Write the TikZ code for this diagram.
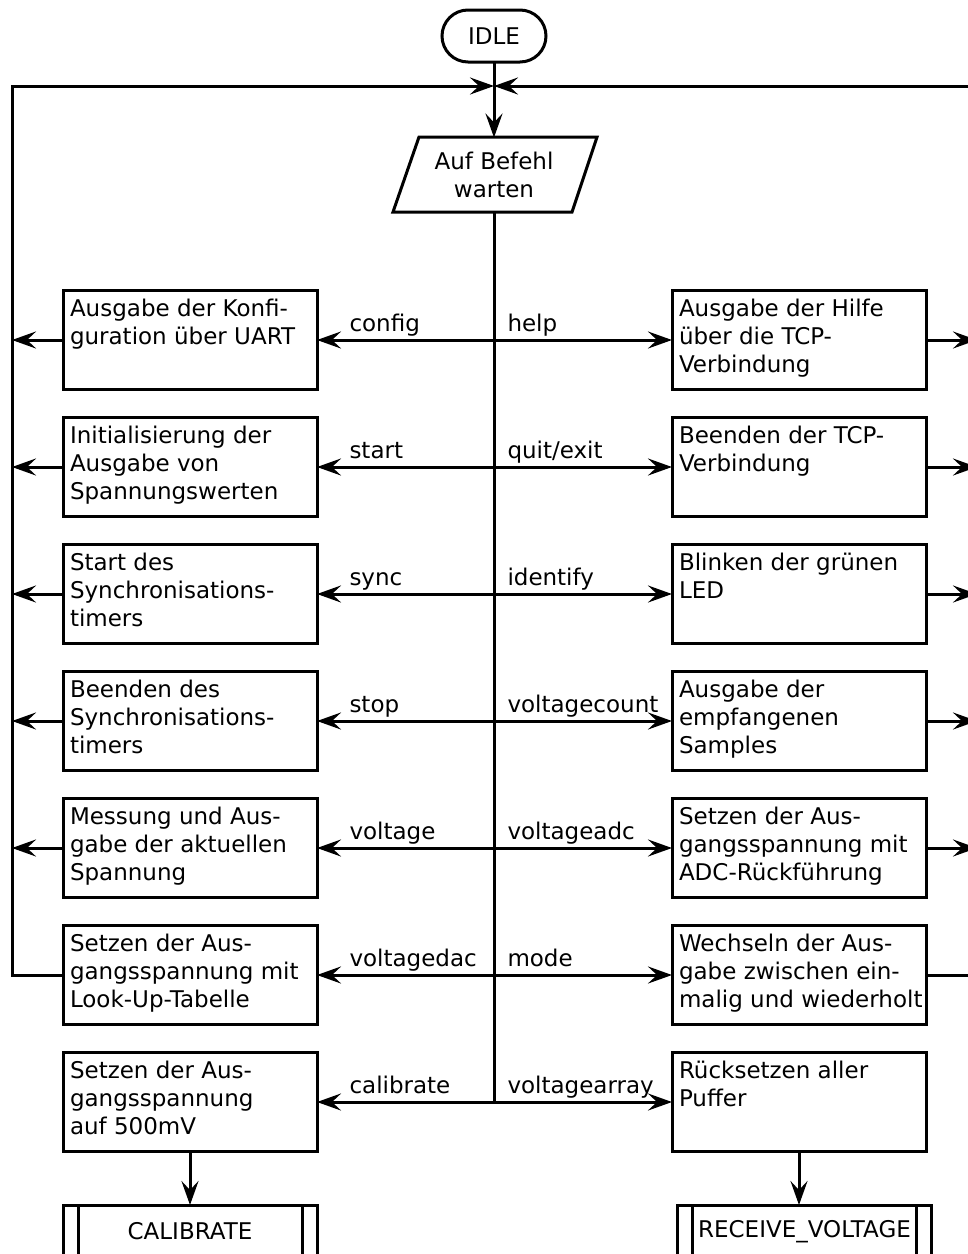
\documentclass[tikz,border=0pt]{standalone}
\usepackage{fontspec}
\setmainfont{DejaVu Sans}
\usetikzlibrary{arrows.meta}

\begin{document}
\begin{tikzpicture}[x=0.5pt, y=-0.5pt, line width=1.5pt,
    >={Stealth[length=12pt,width=8.5pt,inset=4.5pt]},
    font=\fontsize{11.5}{14}\selectfont,
    box/.style={draw, outer sep=0pt, minimum width=127pt, minimum height=49.5pt},
    txt/.style={anchor=north west, align=left, inner xsep=2.75pt, inner ysep=3.5pt},
    cmd/.style={anchor=base west, inner sep=0pt},
    sub/.style={draw, outer sep=0pt, minimum width=127pt, minimum height=26.5pt}]
  \clip (0,0) rectangle (968,1254);

  % start and waiting for a command
  \node[draw, outer sep=0pt, rounded corners=13pt, minimum width=52pt, minimum height=26pt] (idle) at (494,36) {IDLE};
  \draw (419,137) -- (597,137) -- (572,212) -- (393,212) -- cycle;
  \node[align=center, minimum height=37.5pt, outer sep=0pt] (wait) at (494,175) {Auf Befehl\\warten};
  \coordinate (top) at (494,86);
  \coordinate (lft) at (12,86);
  \coordinate (rgt) at (977,86);
  \draw[->] (idle) -- (wait);

  % command boxes
  \node[box, label={[txt]north west:Ausgabe der Konfi-\\guration über UART}] (lb1) at (190,340) {};
  \node[box, label={[txt]north west:Initialisierung der\\Ausgabe von\\Spannungswerten}] (lb2) at (190,467) {};
  \node[box, label={[txt]north west:Start des\\Synchronisations-\\timers}] (lb3) at (190,594) {};
  \node[box, label={[txt]north west:Beenden des\\Synchronisations-\\timers}] (lb4) at (190,721) {};
  \node[box, label={[txt]north west:Messung und Aus-\\gabe der aktuellen\\Spannung}] (lb5) at (190,848) {};
  \node[box, label={[txt]north west:Setzen der Aus-\\gangsspannung mit\\Look-Up-Tabelle}] (lb6) at (190,975) {};
  \node[box, label={[txt]north west:Setzen der Aus-\\gangsspannung\\auf 500mV}] (lb7) at (190,1102) {};

  \node[box, label={[txt]north west:Ausgabe der Hilfe\\über die TCP-\\Verbindung}] (rb1) at (799,340) {};
  \node[box, label={[txt]north west:Beenden der TCP-\\Verbindung}] (rb2) at (799,467) {};
  \node[box, label={[txt]north west:Blinken der grünen\\LED}] (rb3) at (799,594) {};
  \node[box, label={[txt]north west:Ausgabe der\\empfangenen\\Samples}] (rb4) at (799,721) {};
  \node[box, label={[txt]north west:Setzen der Aus-\\gangsspannung mit\\ADC-Rückführung}] (rb5) at (799,848) {};
  \node[box, label={[txt]north west:Wechseln der Aus-\\gabe zwischen ein-\\malig und wiederholt}] (rb6) at (799,975) {};
  \node[box, label={[txt]north west:Rücksetzen aller\\Puffer}] (rb7) at (799,1102) {};

  % command names
  \node[cmd] (lc1) at (348,331) {config};
  \node[cmd] (rc1) at (506,331) {help};
  \node[cmd] (lc2) at (348,458) {start};
  \node[cmd] (rc2) at (506,458) {quit/exit};
  \node[cmd] (lc3) at (348,585) {sync};
  \node[cmd] (rc3) at (506,585) {identify};
  \node[cmd] (lc4) at (348,712) {stop};
  \node[cmd] (rc4) at (506,712) {voltagecount};
  \node[cmd] (lc5) at (348,839) {voltage};
  \node[cmd] (rc5) at (506,839) {voltageadc};
  \node[cmd] (lc6) at (348,966) {voltagedac};
  \node[cmd] (rc6) at (506,966) {mode};
  \node[cmd] (lc7) at (348,1093) {calibrate};
  \node[cmd] (rc7) at (506,1093) {voltagearray};

  % dispatch from the waiting state
  \draw (wait) -- (wait |- lb7);
  \draw[<->] (lb1) -- (rb1);
  \draw[<->] (lb2) -- (rb2);
  \draw[<->] (lb3) -- (rb3);
  \draw[<->] (lb4) -- (rb4);
  \draw[<->] (lb5) -- (rb5);
  \draw[<->] (lb6) -- (rb6);
  \draw[<->] (lb7) -- (rb7);

  % back to waiting
  \draw[->] (lb6) -| (lft) -- (top);
  \draw[->] (rb6) -| (rgt) -- (top);
  \draw[->] (lb1) -- (lb1 -| lft);
  \draw[->] (lb2) -- (lb2 -| lft);
  \draw[->] (lb3) -- (lb3 -| lft);
  \draw[->] (lb4) -- (lb4 -| lft);
  \draw[->] (lb5) -- (lb5 -| lft);
  \draw[->] (rb1) -- (rb1 -| rgt);
  \draw[->] (rb2) -- (rb2 -| rgt);
  \draw[->] (rb3) -- (rb3 -| rgt);
  \draw[->] (rb4) -- (rb4 -| rgt);
  \draw[->] (rb5) -- (rb5 -| rgt);

  % next states
  \node[sub] (cal) at (190,1231.5) {CALIBRATE};
  \node[sub] (recv) at (804.5,1231.5) {RECEIVE\_VOLTAGE};
  \draw ([xshift=7.5pt]cal.north west) -- ([xshift=7.5pt]cal.south west);
  \draw ([xshift=-7.5pt]cal.north east) -- ([xshift=-7.5pt]cal.south east);
  \draw ([xshift=7.5pt]recv.north west) -- ([xshift=7.5pt]recv.south west);
  \draw ([xshift=-7.5pt]recv.north east) -- ([xshift=-7.5pt]recv.south east);
  \draw[->] (lb7) -- (cal);
  \draw[->] (rb7) -- (rb7 |- recv.north);
\end{tikzpicture}
\end{document}
